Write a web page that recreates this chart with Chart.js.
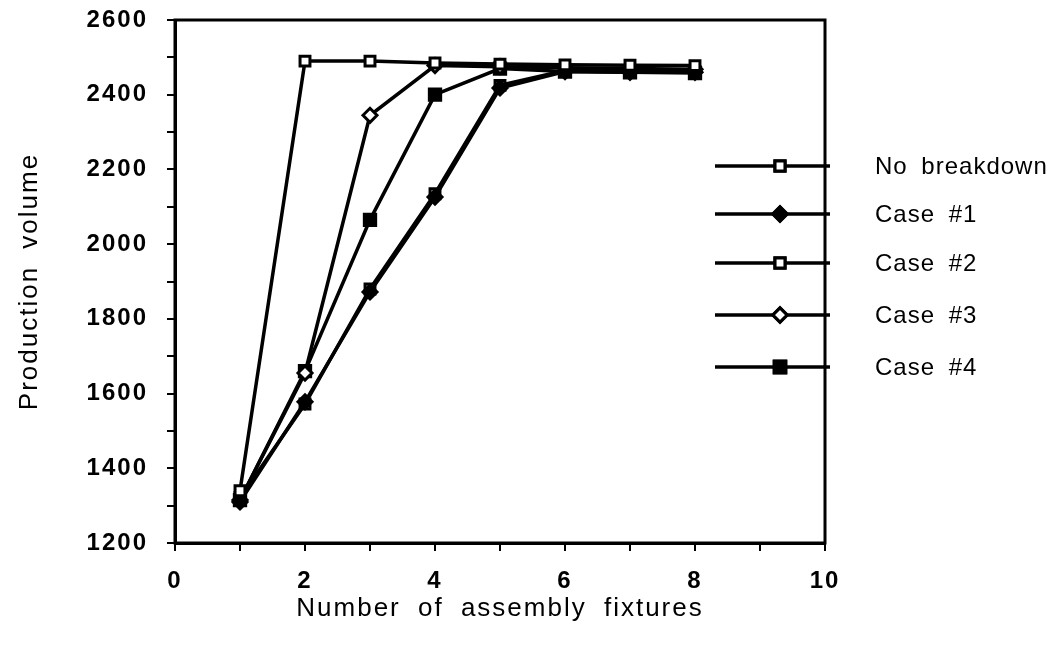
<!DOCTYPE html>
<html>
<head>
<meta charset="utf-8">
<script src="https://cdn.jsdelivr.net/npm/chart.js@4"></script>
<style>
  html, body { margin: 0; padding: 0; background: #fff; }
  #wrap { width: 1058px; height: 648px; }
</style>
</head>
<body>
<div id="wrap"><canvas id="prodChart"></canvas></div>
<script>
// Production volume vs number of assembly fixtures

const fixtures = [1, 2, 3, 4, 5, 6, 7, 8];
const noBreakdown = [1340, 2490, 2490, 2485, 2482, 2480, 2479, 2478];
const case1 = [1310, 1578, 1872, 2126, 2418, 2462, 2460, 2460];
const case2 = [1322, 1572, 1880, 2135, 2425, 2465, 2463, 2462];
const case3 = [1315, 1655, 2345, 2478, 2475, 2472, 2470, 2468];
const case4 = [1315, 1660, 2065, 2400, 2470, 2462, 2460, 2458];
const seriesNames = ['No breakdown', 'Case #1', 'Case #2', 'Case #3', 'Case #4'];
const yTicks = [1200, 1400, 1600, 1800, 2000, 2200, 2400, 2600];
const xTicks = [0, 2, 4, 6, 8, 10];

const ink = '#000';
const font = 'Liberation Sans, Arial, Helvetica, sans-serif';
const fontSize = 24;

const styles = [
  { pointStyle: 'rect', fill: '#fff', radius: 7 },
  { pointStyle: 'rectRot', fill: ink, radius: 7 },
  { pointStyle: 'rect', fill: '#fff', radius: 7 },
  { pointStyle: 'rectRot', fill: '#fff', radius: 7 },
  { pointStyle: 'rect', fill: ink, radius: 8 }
];

const seriesValues = [noBreakdown, case1, case2, case3, case4];
const datasets = seriesValues.map((vals, i) => ({
  label: seriesNames[i],
  data: fixtures.map((x, j) => ({ x: x, y: vals[j] })),
  borderColor: ink,
  borderWidth: 3.5,
  pointStyle: styles[i].pointStyle,
  pointRadius: styles[i].radius,
  pointBackgroundColor: styles[i].fill,
  pointBorderColor: ink,
  pointBorderWidth: 3,
  tension: 0
}));

// the old plotting software spaced its letters out
function spread(ctx) { ctx.letterSpacing = '2px'; ctx.wordSpacing = '8px'; }
const spacing = {
  id: 'spacing',
  beforeLayout(chart) { spread(chart.ctx); },
  beforeDraw(chart) { spread(chart.ctx); }
};

// frame round the plot area (top and right edges too)
const frame = {
  id: 'frame',
  afterDraw(chart) {
    const a = chart.chartArea, c = chart.ctx;
    c.save();
    c.strokeStyle = ink;
    c.lineWidth = 3;
    c.strokeRect(a.left, a.top, a.right - a.left, a.bottom - a.top);
    c.restore();
  }
};

// legend drawn beside the plot, lines crossing the right edge
const sideLegend = {
  id: 'sideLegend',
  afterDraw(chart) {
    const c = chart.ctx;
    const r = chart.chartArea.right;
    const rowY = [166, 214, 263, 315, 367];
    c.save();
    chart.data.datasets.forEach((ds, i) => {
      const y = rowY[i];
      c.strokeStyle = ink;
      c.lineWidth = 3.5;
      c.beginPath(); c.moveTo(r - 110, y); c.lineTo(r + 5, y); c.stroke();
      Chart.helpers.drawPoint(c, {
        pointStyle: ds.pointStyle, radius: ds.pointRadius, borderWidth: 3
      }, r - 45, y);
      c.fillStyle = ds.pointBackgroundColor;
      c.lineWidth = 3;
      c.fill(); c.stroke();
      c.fillStyle = ink;
      c.font = fontSize + 'px ' + font;
      c.letterSpacing = '1px';
      c.wordSpacing = '6px';
      c.textBaseline = 'middle';
      c.fillText(ds.label, r + 50, y + 1);
    });
    c.restore();
  }
};

new Chart(document.getElementById('prodChart'), {
  type: 'line',
  data: { datasets: datasets },
  options: {
    responsive: true,
    maintainAspectRatio: false,
    animation: false,
    layout: { padding: { top: 20, right: 233, bottom: 0, left: 14 } },
    plugins: { legend: { display: false }, tooltip: { enabled: false } },
    scales: {
      x: {
        type: 'linear',
        min: 0, max: 10,
        afterFit(s) { s.height = 105; },
        border: { color: ink, width: 3 },
        grid: { drawOnChartArea: false, color: ink, tickLength: 8, lineWidth: 2 },
        ticks: {
          stepSize: 1, color: ink, padding: 16,
          font: { family: font, size: fontSize, weight: 'bold' },
          callback: v => xTicks.includes(v) ? String(v) : ''
        },
        title: {
          display: true, text: 'Number of assembly fixtures', color: ink,
          font: { family: font, size: 26 }, padding: { top: 4, bottom: 24 }
        }
      },
      y: {
        min: 1200, max: 2600,
        afterFit(s) { s.width = 161; s.paddingTop = 0; s.paddingBottom = 0; },
        border: { color: ink, width: 3 },
        grid: { drawOnChartArea: false, color: ink, tickLength: 8, lineWidth: 2 },
        ticks: {
          stepSize: 100, color: ink, padding: 19,
          font: { family: font, size: fontSize, weight: 'bold' },
          callback: v => yTicks.includes(v) ? String(v) : ''
        },
        title: {
          display: true, text: 'Production volume', color: ink,
          font: { family: font, size: 26 }, padding: { top: 0, bottom: 10 }
        }
      }
    }
  },
  plugins: [spacing, frame, sideLegend]
});
</script>
</body>
</html>
